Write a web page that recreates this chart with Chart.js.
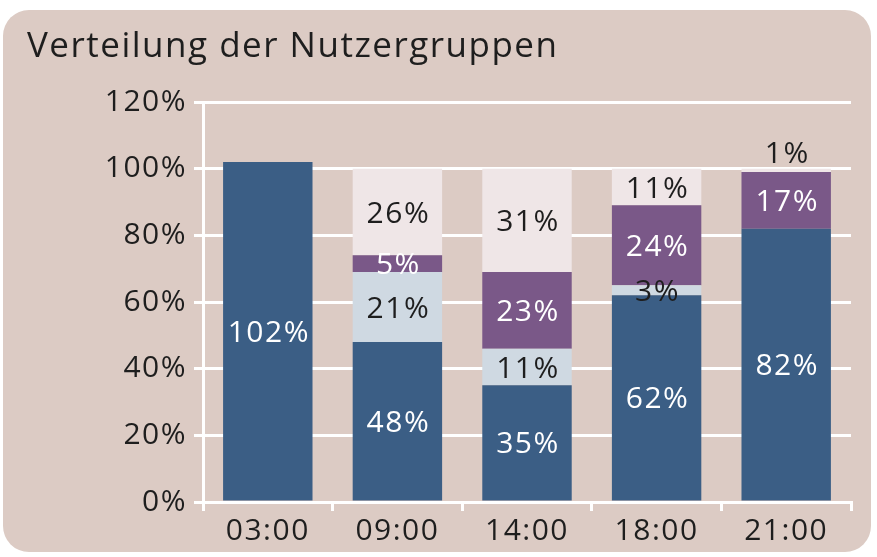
<!DOCTYPE html>
<html>
<head>
<meta charset="utf-8">
<script src="https://cdn.jsdelivr.net/npm/chart.js@4"></script>
<style>
  body { margin: 0; background: #ffffff; }
  canvas { display: block; }
</style>
</head>
<body>
<canvas id="chart" width="877" height="557"></canvas>
<script>
// data
const categories = ['03:00', '09:00', '14:00', '18:00', '21:00'];
const groupA = [102, 48, 35, 62, 82];   // dunkelblau
const groupB = [0, 21, 11, 3, 0];       // hellblau
const groupC = [0, 5, 23, 24, 17];      // lila
const groupD = [0, 26, 31, 11, 1];      // hellrosa
const yTicks = [0, 20, 40, 60, 80, 100, 120];

const fontFamily = '"Open Sans", "Noto Sans", sans-serif';
const textColor = '#1e1e1e';
const spacing = '1.5px';

// rounded background card
const cardPlugin = {
    id: 'card',
    beforeDraw(chart) {
        const ctx = chart.ctx;
        ctx.letterSpacing = spacing;
        ctx.save();
        ctx.fillStyle = '#dccbc4';
        ctx.beginPath();
        ctx.roundRect(3, 10, 868, 542, 26);
        ctx.fill();
        ctx.restore();
    }
};

// value labels on the segments
const labelPlugin = {
    id: 'segmentLabels',
    afterDatasetsDraw(chart) {
        const ctx = chart.ctx;
        ctx.save();
        ctx.font = '30px ' + fontFamily;
        ctx.letterSpacing = spacing;
        ctx.textAlign = 'center';
        ctx.textBaseline = 'middle';
        chart.data.datasets.forEach((ds, i) => {
            const meta = chart.getDatasetMeta(i);
            meta.data.forEach((bar, j) => {
                const v = ds.data[j];
                if (!v) return;
                const h = Math.abs(bar.base - bar.y);
                let y = (bar.y + bar.base) / 2 + 2;
                let color = ds.labelColor;
                // tiny top segment: label sits above the bar
                if (h < 10 && i === chart.data.datasets.length - 1) {
                    y = bar.y - 14;
                    color = textColor;
                }
                ctx.fillStyle = color;
                ctx.fillText(v + '%', bar.x + 1, y);
            });
        });
        ctx.restore();
    }
};

new Chart(document.getElementById('chart'), {
    type: 'bar',
    data: {
        labels: categories,
        datasets: [
            { data: groupA, backgroundColor: '#3b5e85', labelColor: '#ffffff' },
            { data: groupB, backgroundColor: '#cfd9e2', labelColor: textColor },
            { data: groupC, backgroundColor: '#7a5888', labelColor: '#ffffff' },
            { data: groupD, backgroundColor: '#efe6e7', labelColor: textColor }
        ]
    },
    options: {
        responsive: false,
        animation: false,
        barPercentage: 0.69,
        categoryPercentage: 1,
        layout: { padding: { left: 27, right: 26, top: 0, bottom: 0 } },
        plugins: {
            legend: { display: false },
            tooltip: { enabled: false },
            title: {
                display: true,
                text: 'Verteilung der Nutzergruppen',
                align: 'start',
                color: textColor,
                font: { family: fontFamily, size: 35, weight: 'normal' },
                padding: { top: 26, bottom: 34 }
            }
        },
        scales: {
            x: {
                stacked: true,
                afterFit(scale) { scale.height = 55; },
                grid: {
                    drawOnChartArea: false,
                    drawTicks: true,
                    tickLength: 9,
                    color: '#ffffff',
                    lineWidth: 3
                },
                border: { color: '#ffffff', width: 3 },
                ticks: {
                    color: textColor,
                    padding: 2,
                    font: { family: fontFamily, size: 30 }
                }
            },
            y: {
                stacked: true,
                min: 0,
                max: 120,
                afterFit(scale) { scale.width = 176; },
                afterBuildTicks(scale) {
                    scale.ticks = yTicks.map(v => ({ value: v }));
                },
                grid: {
                    color: '#ffffff',
                    lineWidth: 3,
                    tickLength: 9
                },
                border: { color: '#ffffff', width: 3 },
                ticks: {
                    color: textColor,
                    padding: 7,
                    font: { family: fontFamily, size: 30 },
                    callback: v => v + '%'
                }
            }
        }
    },
    plugins: [cardPlugin, labelPlugin]
});
</script>
</body>
</html>
